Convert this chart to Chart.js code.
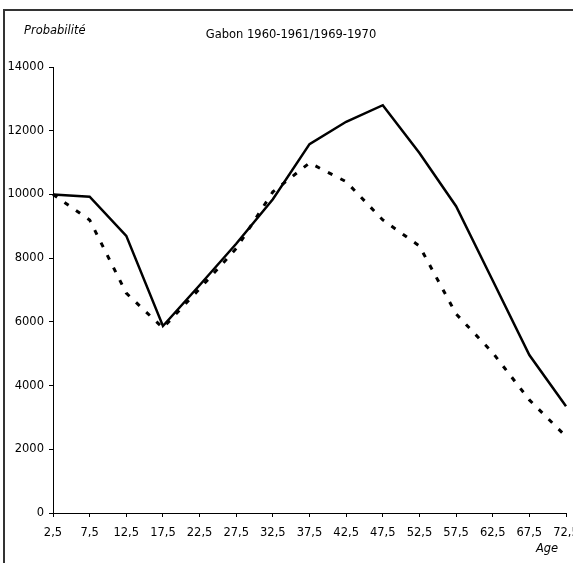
<!DOCTYPE html>
<html>
<head>
<meta charset="utf-8">
<script src="https://cdn.jsdelivr.net/npm/chart.js@4/dist/chart.umd.min.js"></script>
<style>
    html, body { margin: 0; padding: 0; background: #fff; }
    #wrap { width: 573px; height: 563px; }
</style>
</head>
<body>
<div id="wrap"><canvas id="output" width="573" height="563"></canvas></div>
<script>
const ageLabels = ["2,5", "7,5", "12,5", "17,5", "22,5", "27,5", "32,5", "37,5", "42,5", "47,5", "52,5", "57,5", "62,5", "67,5", "72,5"];
const solidValues = [10000, 9930, 8700, 5870, 7150, 8450, 9850, 11580, 12280, 12800, 11300, 9630, 7300, 4960, 3350];
const dashedValues = [10000, 9200, 6900, 5810, 7040, 8300, 10080, 10990, 10400, 9200, 8380, 6250, 5030, 3550, 2400];
const yTicks = [0, 2000, 4000, 6000, 8000, 10000, 12000, 14000];

const titleText = "Gabon 1960-1961/1969-1970";
const yTitle = "Probabilité";
const xTitle = "Age";
const FONT = "'DejaVu Sans', sans-serif";

// frame + free texts, drawn after the chart
const extras = {
    id: "extras",
    afterDraw(chart) {
        const ctx = chart.ctx;
        ctx.save();
        ctx.strokeStyle = "#333";
        ctx.lineWidth = 2;
        ctx.beginPath();
        ctx.moveTo(4, 563);
        ctx.lineTo(4, 10);
        ctx.lineTo(573, 10);
        ctx.stroke();

        ctx.fillStyle = "#000";
        ctx.textBaseline = "middle";
        ctx.font = "11.5px " + FONT;
        ctx.textAlign = "center";
        ctx.fillText(titleText, 291, 35);
        ctx.font = "italic 11.5px " + FONT;
        ctx.textAlign = "left";
        ctx.fillText(yTitle, 24, 31);
        ctx.textAlign = "center";
        ctx.fillText(xTitle, 547, 549);
        ctx.restore();
    }
};

const chart = new Chart(document.getElementById("output"), {
    type: "line",
    data: {
        labels: ageLabels,
        datasets: [
            {
                label: "solid",
                data: solidValues,
                borderColor: "#000",
                borderWidth: 2.5,
                pointRadius: 0,
                tension: 0
            },
            {
                label: "dashed",
                data: dashedValues,
                borderColor: "#000",
                borderWidth: 3,
                borderDash: [5, 9],
                pointRadius: 0,
                tension: 0
            }
        ]
    },
    options: {
        responsive: false,
        animation: false,
        events: [],
        layout: { padding: { left: 0, top: 67, right: 7, bottom: 0 } },
        plugins: {
            legend: { display: false },
            title: { display: false },
            tooltip: { enabled: false }
        },
        scales: {
            x: {
                type: "category",
                offset: false,
                grid: { display: true, drawOnChartArea: false, tickLength: 4, color: "#000" },
                border: { display: true, color: "#000", width: 1 },
                ticks: {
                    color: "#000",
                    font: { family: FONT, size: 11.5 },
                    padding: 9,
                    maxRotation: 0,
                    autoSkip: false
                },
                afterFit(scale) {
                    scale.height = 50;
                    scale.paddingLeft = 0;
                    scale.paddingRight = 0;
                }
            },
            y: {
                min: 0,
                max: 14000,
                afterBuildTicks(scale) {
                    scale.ticks = yTicks.map(v => ({ value: v }));
                },
                grid: { display: true, drawOnChartArea: false, tickLength: 4, color: "#000" },
                border: { display: true, color: "#000", width: 1 },
                ticks: {
                    color: "#000",
                    font: { family: FONT, size: 11.5 },
                    padding: 5,
                    callback: v => String(v)
                },
                afterFit(scale) {
                    scale.width = 53;
                    scale.paddingTop = 0;
                    scale.paddingBottom = 0;
                }
            }
        }
    },
    plugins: [extras]
});
</script>
</body>
</html>
